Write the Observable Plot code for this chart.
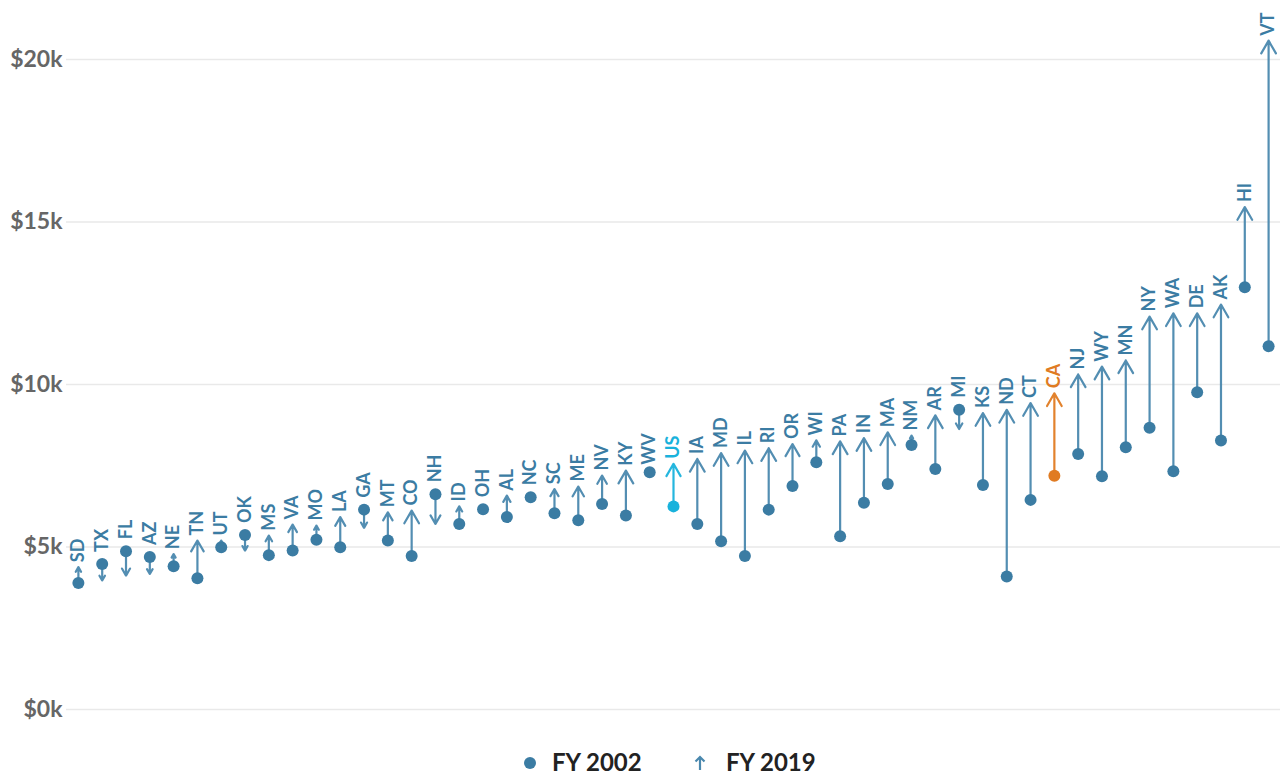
<!DOCTYPE html>
<html>
<head>
<meta charset="utf-8">
<script src="https://cdn.jsdelivr.net/npm/d3@7"></script>
<script src="https://cdn.jsdelivr.net/npm/@observablehq/plot@0.6"></script>
<style>
  html, body { margin: 0; padding: 0; background: #fff; overflow: hidden; }
  body { font-family: Lato, "Open Sans", sans-serif; width: 1282px; }
  #legend { position: relative; width: 1282px; height: 39px; }
  #legend .item { position: absolute; font-size: 24px; font-weight: 700; color: #222; line-height: 24px; top: 15px; white-space: nowrap; }
  #legend svg { position: absolute; }
</style>
</head>
<body>
<div id="chart"></div>
<div id="legend">
  <svg style="left:523px;top:21px" width="14" height="14"><circle cx="7" cy="7" r="6" fill="#3b7ca3"></circle></svg>
  <span class="item" style="left:552px">FY 2002</span>
  <svg style="left:693px;top:19px" width="14" height="18"><path d="M7,16 L7,3 M2.5,7.5 L7,3 L11.5,7.5" stroke="#4a88ae" stroke-width="2.2" fill="none"></path></svg>
  <span class="item" style="left:726px">FY 2019</span>
</div>
<script>
const states = ["SD","TX","FL","AZ","NE","TN","UT","OK","MS","VA","MO","LA","GA","MT","CO","NH","ID","OH","AL","NC","SC","ME","NV","KY","WV","US","IA","MD","IL","RI","OR","WI","PA","IN","MA","NM","AR","MI","KS","ND","CT","CA","NJ","WY","MN","NY","WA","DE","AK","HI","VT"];
const fy2002 = [3890,4480,4870,4690,4410,4040,4990,5370,4750,4890,5220,4990,6150,5200,4720,6620,5710,6160,5920,6530,6040,5820,6320,5970,7300,6250,5710,5180,4720,6150,6880,7610,5330,6360,6940,8140,7400,9220,6910,4090,6450,7190,7860,7180,8070,8670,7330,9760,8280,12990,11180];
const fy2019 = [4380,3970,4120,4170,4780,5200,5200,4890,5350,5690,5660,5920,5590,6070,6120,5710,6250,6050,6580,6450,6780,6860,7200,7350,7380,7560,7710,7890,7970,8040,8170,8280,8250,8350,8530,8430,9050,8630,9120,9220,9430,9730,10310,10550,10740,12090,12190,12190,12460,15460,20580];
const yTicks = [0, 5000, 10000, 15000, 20000];

const baseColor = "#3b7ca3";
const lineColor = "#4a88ae";
const usColor = "#19b2dc";
const caColor = "#e07b22";

const data = states.map((s, i) => ({state: s, v2002: fy2002[i], v2019: fy2019[i], top: Math.max(fy2002[i], fy2019[i])}));
const dotColor = d => d.state === "US" ? usColor : d.state === "CA" ? caColor : baseColor;
const strokeColor = d => d.state === "US" ? usColor : d.state === "CA" ? caColor : lineColor;
const rising = data.filter(d => d.v2019 >= d.v2002);
const falling = data.filter(d => d.v2019 < d.v2002);

const labelOpts = {
  x: "state", y: "top", text: "state", fill: dotColor,
  rotate: -90, textAnchor: "start", lineAnchor: "middle",
  fontSize: 18, fontWeight: 700, fontFamily: "Lato"
};

const chart = Plot.plot({
  width: 1282,
  height: 735,
  marginLeft: 66,
  marginRight: 2,
  marginTop: 26.5,
  marginBottom: 26,
  style: {fontFamily: "Lato", fontSize: "22px", color: "#666", background: "#fff", overflow: "visible"},
  x: {type: "point", domain: states, padding: 0.5, axis: null},
  y: {domain: [0, 21000], ticks: yTicks, tickFormat: d => `$${d / 1000}k`, tickSize: 0, tickPadding: 4, label: null},
  color: {type: "identity"},
  marks: [
    Plot.ruleY(yTicks, {stroke: "#e9e9e9", strokeWidth: 1.5}),
    Plot.axisY({ticks: yTicks, tickFormat: d => `$${d / 1000}k`, tickSize: 0, tickPadding: 4, fontWeight: 700, label: null, fill: "#666", fontSize: 23}),
    Plot.arrow(data, {x: "state", y1: "v2002", y2: "v2019", stroke: strokeColor, strokeWidth: 2.2, headLength: 10, strokeOpacity: 0.95}),
    Plot.dot(data, {x: "state", y: "v2002", r: 6, fill: dotColor}),
    Plot.text(rising, {...labelOpts, dy: -5}),
    Plot.text(falling, {...labelOpts, dy: -12})
  ]
});
document.getElementById("chart").appendChild(chart);
</script>
</body>
</html>
